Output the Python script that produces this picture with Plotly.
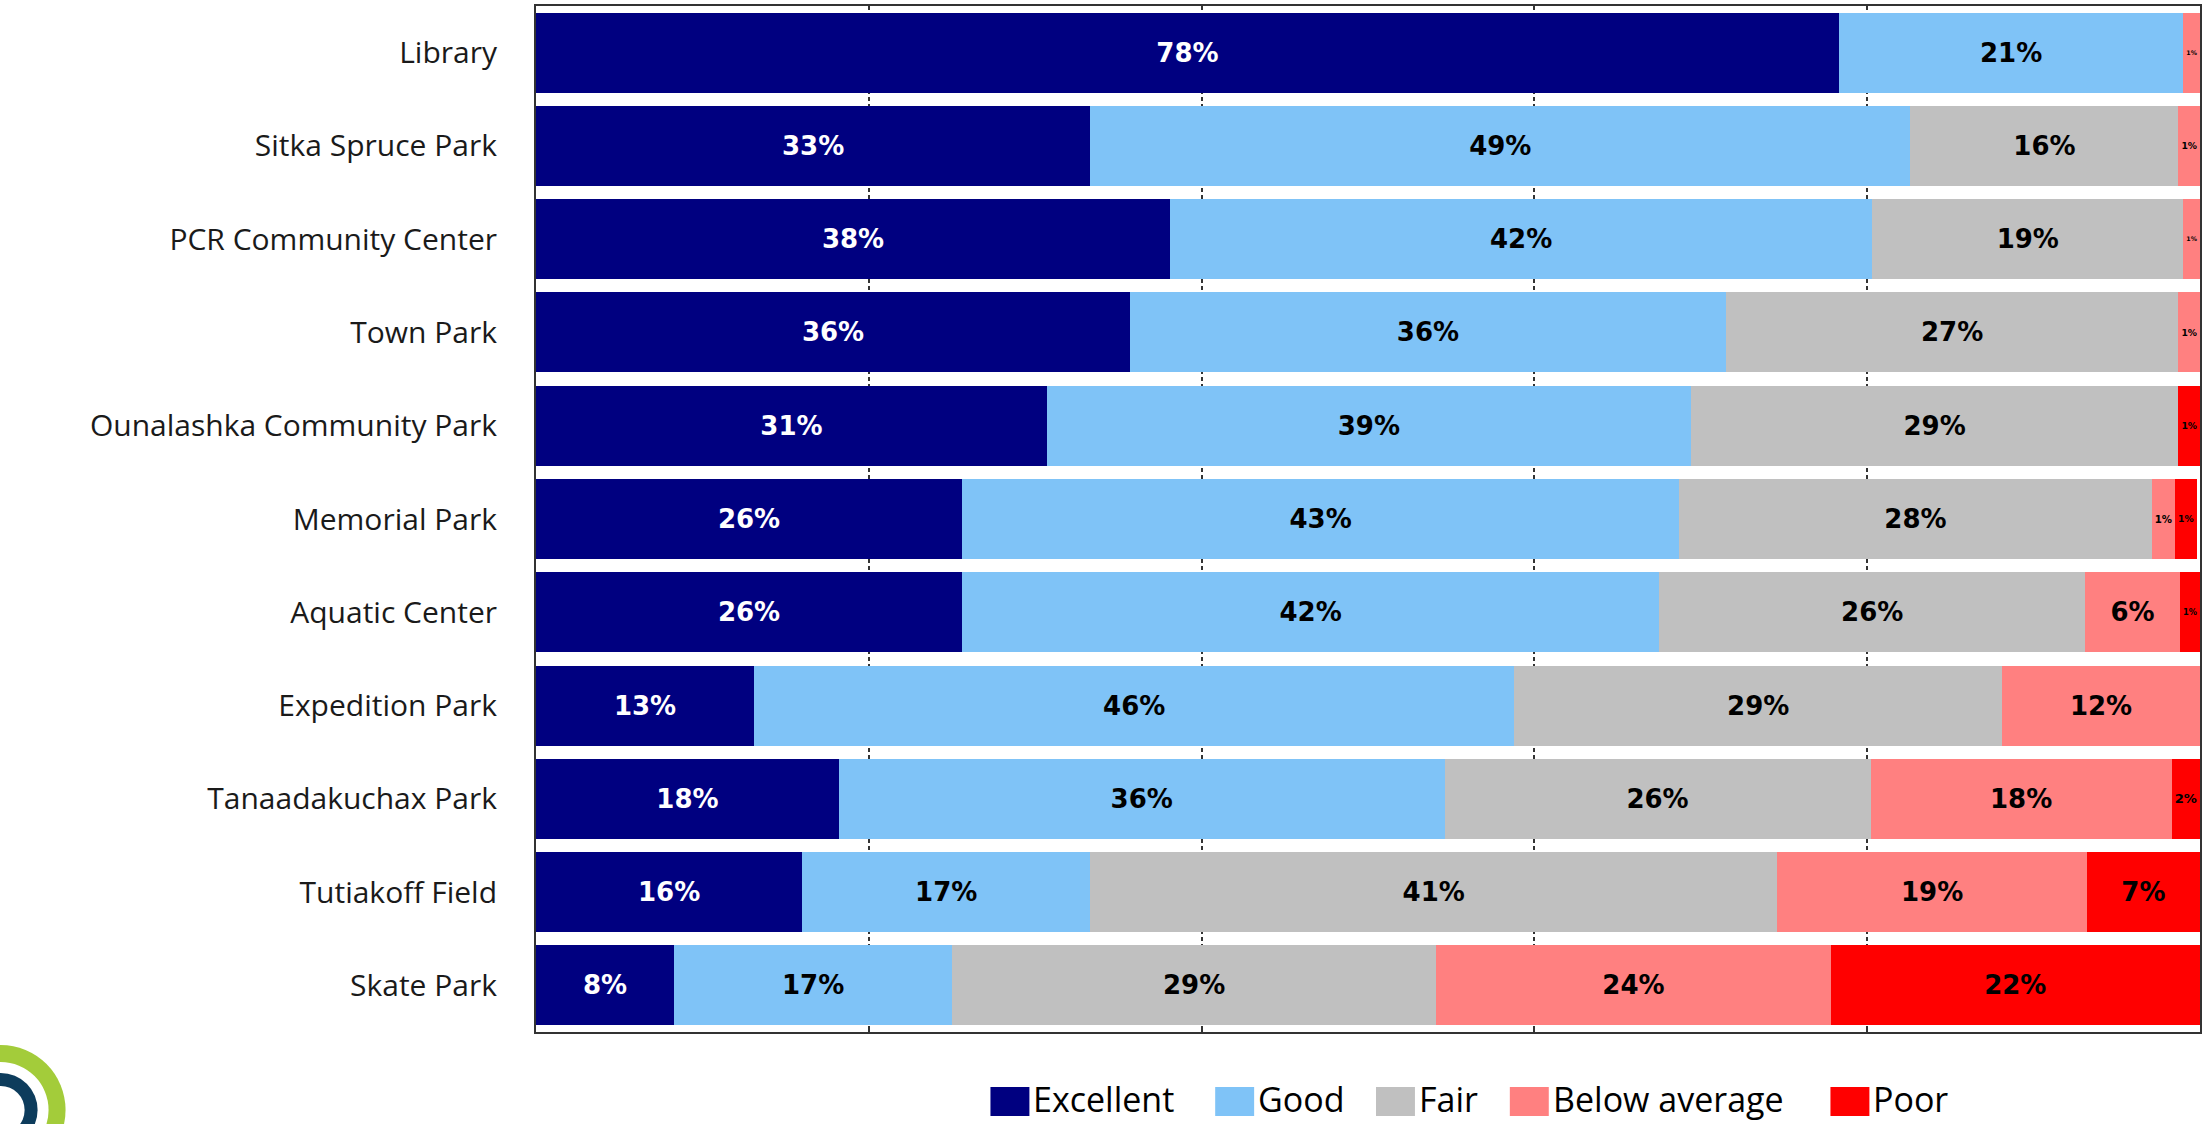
import plotly.graph_objects as go

# ---------------- data ----------------
facilities = ["Library", "Sitka Spruce Park", "PCR Community Center", "Town Park",
              "Ounalashka Community Park", "Memorial Park", "Aquatic Center",
              "Expedition Park", "Tanaadakuchax Park", "Tutiakoff Field", "Skate Park"]

excellent = [78.3, 33.3, 38.1, 35.7, 30.7, 25.6, 25.6, 13.1, 18.2, 16.0, 8.3]
good      = [20.7, 49.3, 42.2, 35.8, 38.7, 43.1, 41.9, 45.7, 36.4, 17.3, 16.7]
fair      = [0.0, 16.1, 18.7, 27.2, 29.3, 28.4, 25.6, 29.3, 25.6, 41.3, 29.1]
below_avg = [1.0, 1.3, 1.0, 1.3, 0.0, 1.4, 5.7, 11.9, 18.1, 18.6, 23.7]
poor      = [0.0, 0.0, 0.0, 0.0, 1.3, 1.3, 1.2, 0.0, 1.7, 6.8, 22.2]

series_names = ["Excellent", "Good", "Fair", "Below average", "Poor"]
series_values = [excellent, good, fair, below_avg, poor]
series_colors = ["#000080", "#7FC3F7", "#C0C0C0", "#FF8080", "#FF0000"]
label_colors = ["#FFFFFF", "#000000", "#000000", "#000000", "#000000"]

# ---------------- layout geometry (pixels) ----------------
W, H = 2202, 1124
L, R, T, B = 536, 0, 6, 92
PW, PH = W - L - R, H - T - B


def px_x(p):
    return (p - L) / PW


def px_y(p):
    return (H - B - p) / PH


fig = go.Figure()
for name, vals, col, tcol in zip(series_names, series_values, series_colors, label_colors):
    labels = [f"{round(v)}%" if v > 0 else "" for v in vals]
    fig.add_trace(go.Bar(
        y=facilities, x=vals, name=name, orientation="h",
        marker=dict(color=col, line=dict(width=0)),
        text=labels, textposition="inside", insidetextanchor="middle", textangle=0,
        textfont=dict(family="DejaVu Sans", size=26, color=tcol, weight="bold"),
        showlegend=False, hoverinfo="skip",
    ))

# custom legend (large swatches like the reference)
legend_x = [991, 1216, 1377, 1511, 1832]
shapes = []
annotations = []
for name, col, lx in zip(series_names, series_colors, legend_x):
    shapes.append(dict(type="rect", xref="paper", yref="paper",
                       x0=px_x(lx), x1=px_x(lx + 39), y0=px_y(1087), y1=px_y(1116),
                       fillcolor=col, line=dict(width=0), layer="above"))
    annotations.append(dict(xref="paper", yref="paper", x=px_x(lx + 42), y=px_y(1099),
                            xanchor="left", yanchor="middle", showarrow=False,
                            borderpad=0,
                            text=name, font=dict(family="Open Sans", size=34, color="#000000")))

# logo arcs at bottom-left corner
cx, cy = 0, 1110
for rad, col in [(65, "#A3CC3A"), (48, "#FFFFFF"), (37, "#0D3C5C"), (24, "#FFFFFF")]:
    shapes.append(dict(type="circle", xref="paper", yref="paper",
                       x0=px_x(cx - rad), x1=px_x(cx + rad),
                       y0=px_y(cy + rad), y1=px_y(cy - rad),
                       fillcolor=col, line=dict(width=0), layer="above"))

fig.update_layout(
    width=W, height=H,
    margin=dict(l=L, r=R, t=T, b=B, pad=0),
    barmode="stack", bargap=0.143,
    plot_bgcolor="#FFFFFF", paper_bgcolor="#FFFFFF",
    shapes=shapes, annotations=annotations,
    showlegend=False,
)
fig.update_xaxes(
    range=[0, 100], dtick=20, tick0=0, showticklabels=False,
    showgrid=True, gridcolor="#333333", gridwidth=2, griddash="4px,3px",
    showline=True, mirror=True, linecolor="#333333", linewidth=2,
    ticks="inside", ticklen=6, tickcolor="#333333", tickwidth=2,
    zeroline=False, fixedrange=True,
)
fig.update_yaxes(
    categoryorder="array", categoryarray=facilities, autorange="reversed",
    showgrid=False, showline=True, mirror=True, linecolor="#333333", linewidth=2,
    ticks="", ticklabelstandoff=31,
    tickfont=dict(family="Open Sans", size=30, color="#1A1A1A"),
    fixedrange=True,
)

fig.write_html(
    "out.html",
    config={"displayModeBar": False},
    post_script="document.body.style.margin='0';document.body.style.overflow='hidden';",
)
